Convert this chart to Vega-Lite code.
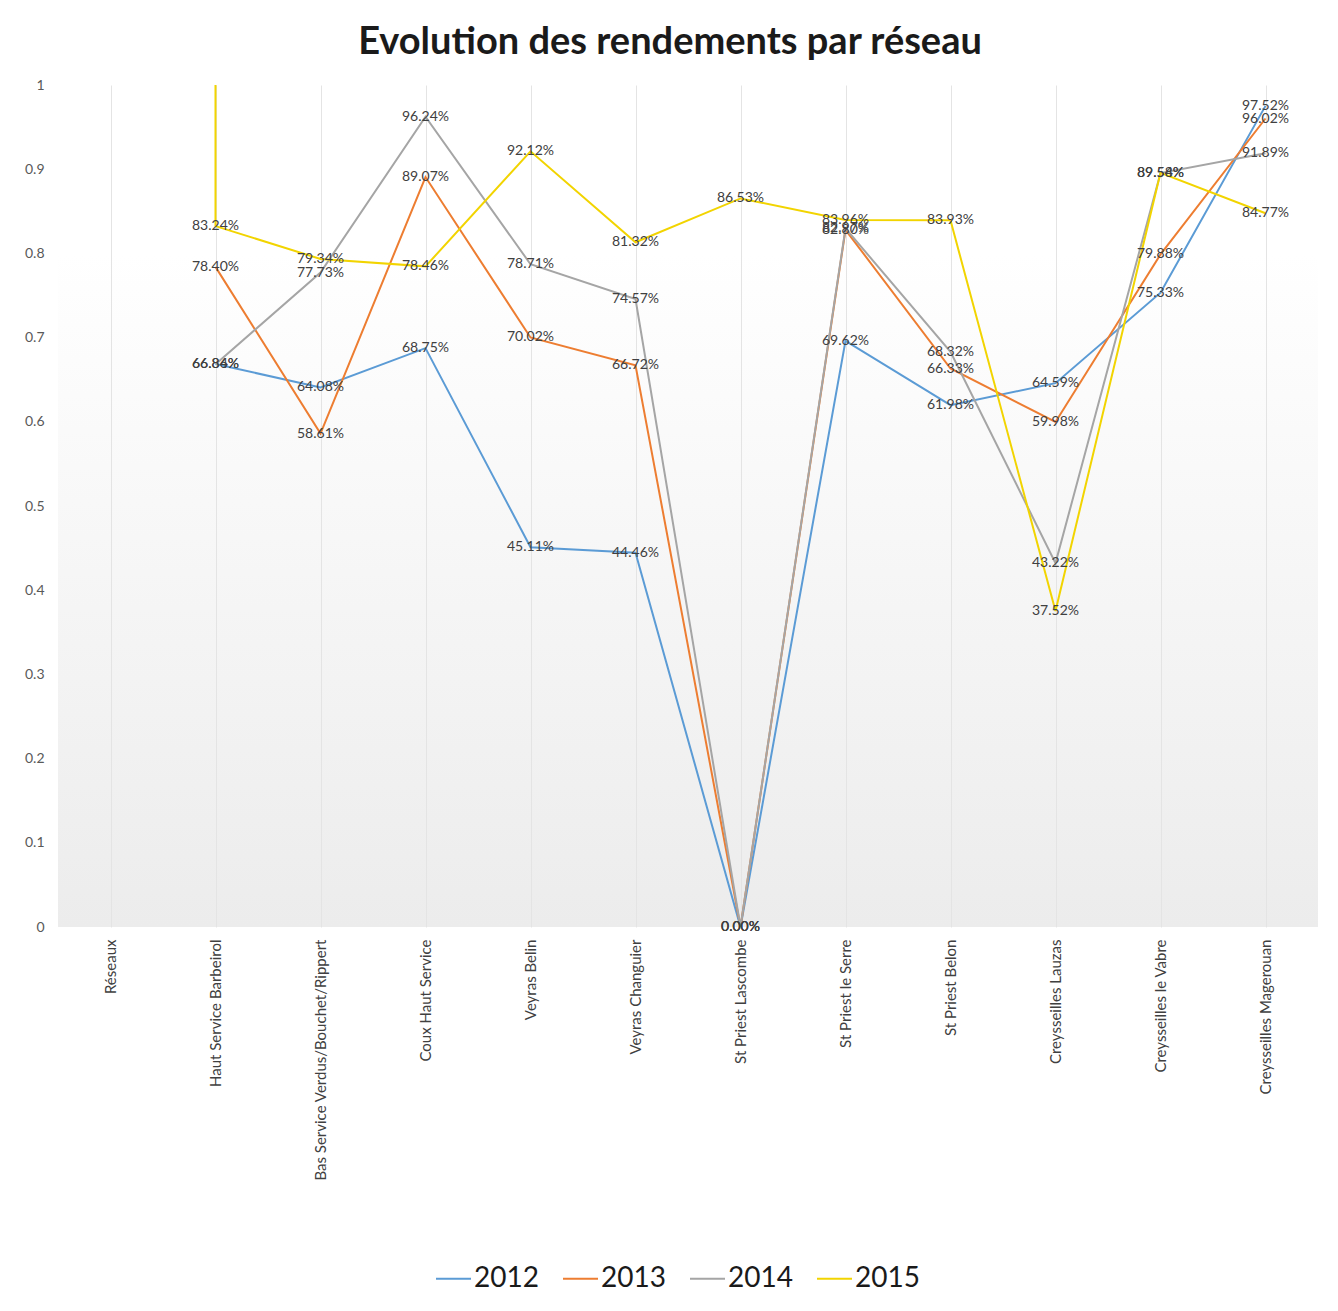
{
  "$schema": "https://vega.github.io/schema/vega-lite/v6.json",
  "autosize": {"type": "none"},
  "width": 1260,
  "height": 842,
  "padding": {"left": 58, "top": 85, "right": 20, "bottom": 384},
  "background": "#ffffff",
  "config": {
    "font": "Lato",
    "view": {
      "stroke": null,
      "fill": {"gradient": "linear", "x1": 0, "y1": 0, "x2": 0, "y2": 1, "stops": [{"offset": 0, "color": "#ffffff"}, {"offset": 0.2, "color": "#ffffff"}, {"offset": 1, "color": "#ececec"}]}
    }
  },
  "title": {"text": "Evolution des rendements par réseau", "fontSize": 38, "font": "Lato", "fontWeight": "bold", "color": "#1a1a1a", "anchor": "middle", "offset": 16, "dx": -18},
  "data": {"values": [
    {"reseau": "Haut Service Barbeirol", "annee": "2012", "val": 0.6686},
    {"reseau": "Bas Service Verdus/Bouchet/Rippert", "annee": "2012", "val": 0.6408},
    {"reseau": "Coux Haut Service", "annee": "2012", "val": 0.6875},
    {"reseau": "Veyras Belin", "annee": "2012", "val": 0.4511},
    {"reseau": "Veyras Changuier", "annee": "2012", "val": 0.4446},
    {"reseau": "St Priest Lascombe", "annee": "2012", "val": 0},
    {"reseau": "St Priest le Serre", "annee": "2012", "val": 0.6962},
    {"reseau": "St Priest Belon", "annee": "2012", "val": 0.6198},
    {"reseau": "Creysseilles Lauzas", "annee": "2012", "val": 0.6459},
    {"reseau": "Creysseilles le Vabre", "annee": "2012", "val": 0.7533},
    {"reseau": "Creysseilles Magerouan", "annee": "2012", "val": 0.9752},
    {"reseau": "Haut Service Barbeirol", "annee": "2013", "val": 0.784},
    {"reseau": "Bas Service Verdus/Bouchet/Rippert", "annee": "2013", "val": 0.5861},
    {"reseau": "Coux Haut Service", "annee": "2013", "val": 0.8907},
    {"reseau": "Veyras Belin", "annee": "2013", "val": 0.7002},
    {"reseau": "Veyras Changuier", "annee": "2013", "val": 0.6672},
    {"reseau": "St Priest Lascombe", "annee": "2013", "val": 0},
    {"reseau": "St Priest le Serre", "annee": "2013", "val": 0.828},
    {"reseau": "St Priest Belon", "annee": "2013", "val": 0.6633},
    {"reseau": "Creysseilles Lauzas", "annee": "2013", "val": 0.5998},
    {"reseau": "Creysseilles le Vabre", "annee": "2013", "val": 0.7988},
    {"reseau": "Creysseilles Magerouan", "annee": "2013", "val": 0.9602},
    {"reseau": "Haut Service Barbeirol", "annee": "2014", "val": 0.6684},
    {"reseau": "Bas Service Verdus/Bouchet/Rippert", "annee": "2014", "val": 0.7773},
    {"reseau": "Coux Haut Service", "annee": "2014", "val": 0.9624},
    {"reseau": "Veyras Belin", "annee": "2014", "val": 0.7871},
    {"reseau": "Veyras Changuier", "annee": "2014", "val": 0.7457},
    {"reseau": "St Priest Lascombe", "annee": "2014", "val": 0},
    {"reseau": "St Priest le Serre", "annee": "2014", "val": 0.8297},
    {"reseau": "St Priest Belon", "annee": "2014", "val": 0.6832},
    {"reseau": "Creysseilles Lauzas", "annee": "2014", "val": 0.4322},
    {"reseau": "Creysseilles le Vabre", "annee": "2014", "val": 0.8954},
    {"reseau": "Creysseilles Magerouan", "annee": "2014", "val": 0.9189},
    {"reseau": "Réseaux", "annee": "2015", "val": 2015},
    {"reseau": "Haut Service Barbeirol", "annee": "2015", "val": 0.8324},
    {"reseau": "Bas Service Verdus/Bouchet/Rippert", "annee": "2015", "val": 0.7934},
    {"reseau": "Coux Haut Service", "annee": "2015", "val": 0.7846},
    {"reseau": "Veyras Belin", "annee": "2015", "val": 0.9212},
    {"reseau": "Veyras Changuier", "annee": "2015", "val": 0.8132},
    {"reseau": "St Priest Lascombe", "annee": "2015", "val": 0.8653},
    {"reseau": "St Priest le Serre", "annee": "2015", "val": 0.8396},
    {"reseau": "St Priest Belon", "annee": "2015", "val": 0.8393},
    {"reseau": "Creysseilles Lauzas", "annee": "2015", "val": 0.3752},
    {"reseau": "Creysseilles le Vabre", "annee": "2015", "val": 0.8958},
    {"reseau": "Creysseilles Magerouan", "annee": "2015", "val": 0.8477}
  ]},
  "encoding": {
    "x": {
      "field": "reseau", "type": "nominal",
      "sort": ["Réseaux", "Haut Service Barbeirol", "Bas Service Verdus/Bouchet/Rippert", "Coux Haut Service", "Veyras Belin", "Veyras Changuier", "St Priest Lascombe", "St Priest le Serre", "St Priest Belon", "Creysseilles Lauzas", "Creysseilles le Vabre", "Creysseilles Magerouan"],
      "scale": {"type": "point", "padding": 0.5, "domain": ["Réseaux", "Haut Service Barbeirol", "Bas Service Verdus/Bouchet/Rippert", "Coux Haut Service", "Veyras Belin", "Veyras Changuier", "St Priest Lascombe", "St Priest le Serre", "St Priest Belon", "Creysseilles Lauzas", "Creysseilles le Vabre", "Creysseilles Magerouan"]},
      "axis": {"title": null, "labelAngle": -90, "labelAlign": "right", "labelBaseline": "middle", "labelFontSize": 15, "labelColor": "#404040", "labelPadding": 12, "domain": false, "ticks": false, "grid": true, "gridColor": "#e4e4e4", "gridWidth": 1, "labelLimit": 400}
    },
    "y": {
      "field": "val", "type": "quantitative",
      "scale": {"domain": [0, 1], "nice": false},
      "axis": {"title": null, "values": [0, 0.1, 0.2, 0.3, 0.4, 0.5, 0.6, 0.7, 0.8, 0.9, 1], "format": "~g", "labelFontSize": 14, "labelColor": "#595959", "labelPadding": 14, "domain": false, "ticks": false, "grid": false}
    },
    "color": {
      "field": "annee", "type": "nominal",
      "scale": {"domain": ["2012", "2013", "2014", "2015"], "range": ["#5B9BD5", "#ED7D31", "#A5A5A5", "#F2D400"]},
      "legend": {"title": null, "orient": "none", "legendX": 377, "legendY": 1175, "direction": "horizontal", "symbolType": "stroke", "symbolSize": 1225, "symbolStrokeWidth": 2, "labelFontSize": 28, "labelColor": "#1a1a1a", "columnPadding": 20, "labelOffset": 2}
    }
  },
  "layer": [
    {"mark": {"type": "line", "strokeWidth": 2, "clip": true}},
    {"transform": [{"filter": "datum.val <= 1"}], "mark": {"type": "text", "fontSize": 14, "color": "#404040"}, "encoding": {"text": {"field": "val", "type": "quantitative", "format": ".2%"}, "color": {"value": "#404040"}}}
  ]
}
